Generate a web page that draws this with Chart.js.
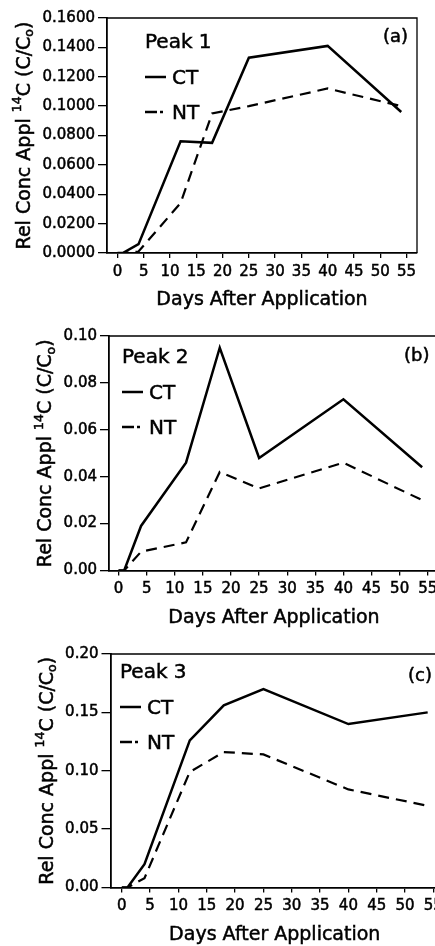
<!DOCTYPE html>
<html>
<head>
<meta charset="utf-8">
<script src="https://cdn.jsdelivr.net/npm/chart.js@4.4.0/dist/chart.umd.min.js"></script>
<style>
  html, body { margin: 0; padding: 0; background: #fff; width: 435px; height: 946px; overflow: hidden; }
  canvas { position: absolute; left: 0; }
</style>
</head>
<body>
<canvas id="peak1" width="460" height="315" style="top:0px"></canvas>
<canvas id="peak2" width="460" height="315" style="top:315px"></canvas>
<canvas id="peak3" width="460" height="316" style="top:630px"></canvas>
<script>
// sampling days (x) shared by all three panels
const days = [0, 1, 4, 12, 18, 25, 40, 54];
const xTicks = [0, 5, 10, 15, 20, 25, 30, 35, 40, 45, 50, 55];

// relative concentration C/Co
const peak1CT = [0, 0, 0.006, 0.076, 0.075, 0.133, 0.141, 0.096];
const peak1NT = [0, 0, 0.001, 0.034, 0.095, 0.100, 0.112, 0.100];
const peak2CT = [0, 0, 0.019, 0.046, 0.095, 0.048, 0.073, 0.044];
const peak2NT = [0, 0, 0.008, 0.012, 0.042, 0.035, 0.046, 0.030];
const peak3CT = [0, 0, 0.020, 0.126, 0.156, 0.170, 0.140, 0.150];
const peak3NT = [0, 0, 0.008, 0.099, 0.116, 0.114, 0.084, 0.070];

const yTicks1 = [0, 0.02, 0.04, 0.06, 0.08, 0.10, 0.12, 0.14, 0.16];
const yTicks2 = [0, 0.02, 0.04, 0.06, 0.08, 0.10];
const yTicks3 = [0, 0.05, 0.10, 0.15, 0.20];

const FONT = "'DejaVu Sans', sans-serif";
Chart.defaults.font.family = FONT;
Chart.defaults.color = '#000';

const pts = (ys) => days.map((d, i) => ({ x: d, y: ys[i] }));

// text a bit heavier, like the scanned original
function heavyText(ctx, s, x, y) {
  ctx.fillText(s, x, y);
  ctx.strokeText(s, x, y);
}

// draws box, legend, panel tag and axis titles
const decoPlugin = {
  id: 'deco',
  afterDraw(chart, args, o) {
    const { ctx, chartArea: a } = chart;
    ctx.save();
    ctx.strokeStyle = '#000';
    ctx.fillStyle = '#000';
    ctx.lineWidth = 1.3;
    ctx.beginPath();
    ctx.moveTo(a.left, a.top);
    ctx.lineTo(a.right, a.top);
    ctx.lineTo(a.right, a.bottom);
    ctx.stroke();

    // legend
    ctx.lineWidth = 2.5;
    ctx.beginPath();
    ctx.moveTo(o.lx, 77); ctx.lineTo(o.lx + 21, 77);
    ctx.moveTo(o.lx, 112); ctx.lineTo(o.lx + 12, 112);
    ctx.moveTo(o.lx + 15, 112); ctx.lineTo(o.lx + 18, 112);
    ctx.stroke();

    ctx.lineWidth = 0.5;
    ctx.textBaseline = 'middle';
    ctx.textAlign = 'left';
    ctx.font = '20px ' + FONT;
    heavyText(ctx, o.label, o.lx, 43);
    heavyText(ctx, 'CT', o.lx + 27, 79);
    heavyText(ctx, 'NT', o.lx + 27, 114);

    ctx.font = '18px ' + FONT;
    heavyText(ctx, o.tag, o.tx, o.ty);

    // x title
    ctx.textAlign = 'center';
    ctx.font = '19px ' + FONT;
    heavyText(ctx, 'Days After Application', (a.left + a.right) / 2, a.bottom + 47.5);

    // y title with superscript 14 and subscript o
    const parts = [
      ['Rel Conc Appl ', 0], ['14', 1], ['C (C/C', 0], ['o', -1], [')', 0]
    ];
    const big = '19px ' + FONT, small = '12.5px ' + FONT;
    let total = 0;
    parts.forEach(p => { ctx.font = p[1] ? small : big; total += ctx.measureText(p[0]).width; });
    ctx.translate(o.yx, (a.top + a.bottom) / 2);
    ctx.rotate(-Math.PI / 2);
    ctx.textAlign = 'left';
    let x = -total / 2;
    parts.forEach(p => {
      ctx.font = p[1] ? small : big;
      const dy = p[1] === 1 ? -7 : (p[1] === -1 ? 5 : 0);
      heavyText(ctx, p[0], x, dy);
      x += ctx.measureText(p[0]).width;
    });
    ctx.restore();
  }
};

function makePanel(id, ct, nt, yTicks, ymax, dec, lay) {
  new Chart(document.getElementById(id), {
    type: 'line',
    data: {
      datasets: [
        { label: 'CT', data: pts(ct), borderColor: '#000', borderWidth: 2.5, pointRadius: 0,
          tension: 0, borderJoinStyle: 'miter', fill: false },
        { label: 'NT', data: pts(nt), borderColor: '#000', borderWidth: 2.2, pointRadius: 0,
          tension: 0, borderDash: [11, 7], fill: false }
      ]
    },
    options: {
      responsive: false,
      animation: false,
      events: [],
      layout: { padding: { top: lay.top, left: 0, right: lay.right, bottom: 0 } },
      plugins: {
        legend: { display: false },
        tooltip: { enabled: false },
        deco: lay.deco
      },
      scales: {
        x: {
          type: 'linear', min: lay.xmin, max: lay.xmax,
          afterBuildTicks: s => { s.ticks = xTicks.map(v => ({ value: v })); },
          afterFit: s => { s.height = lay.xh; },
          ticks: { autoSkip: false, maxRotation: 0, padding: 5, font: { size: 15 },
                   textStrokeColor: '#000', textStrokeWidth: 0.5 },
          grid: { drawOnChartArea: false, drawTicks: true, tickLength: 5, color: '#000', lineWidth: 1.3 },
          border: { display: true, color: '#000', width: 1.8 }
        },
        y: {
          min: 0, max: ymax,
          afterBuildTicks: s => { s.ticks = yTicks.map(v => ({ value: v })); },
          afterFit: s => { s.width = lay.yw; },
          ticks: { padding: 3, font: { size: 15 }, callback: v => v.toFixed(dec),
                   textStrokeColor: '#000', textStrokeWidth: 0.5 },
          grid: { drawOnChartArea: false, drawTicks: true, tickLength: 9, color: '#000', lineWidth: 1.3 },
          border: { display: true, color: '#000', width: 1.8 }
        }
      }
    },
    plugins: [decoPlugin]
  });
}

makePanel('peak1', peak1CT, peak1NT, yTicks1, 0.16, 4, {
  top: 18, right: 43, xh: 62, yw: 107, xmin: -2, xmax: 57,
  deco: { label: 'Peak 1', lx: 145, tag: '(a)', tx: 383, ty: 37, yx: 25 }
});
makePanel('peak2', peak2CT, peak2NT, yTicks2, 0.10, 2, {
  top: 21, right: 21, xh: 59.5, yw: 109, xmin: -1.7, xmax: 57,
  deco: { label: 'Peak 2', lx: 122, tag: '(b)', tx: 404, ty: 41, yx: 46.5 }
});
makePanel('peak3', peak3CT, peak3NT, yTicks3, 0.20, 2, {
  top: 24, right: 21, xh: 58.5, yw: 110.5, xmin: -2, xmax: 56,
  deco: { label: 'Peak 3', lx: 120, tag: '(c)', tx: 408, ty: 46, yx: 48 }
});
</script>
</body>
</html>
